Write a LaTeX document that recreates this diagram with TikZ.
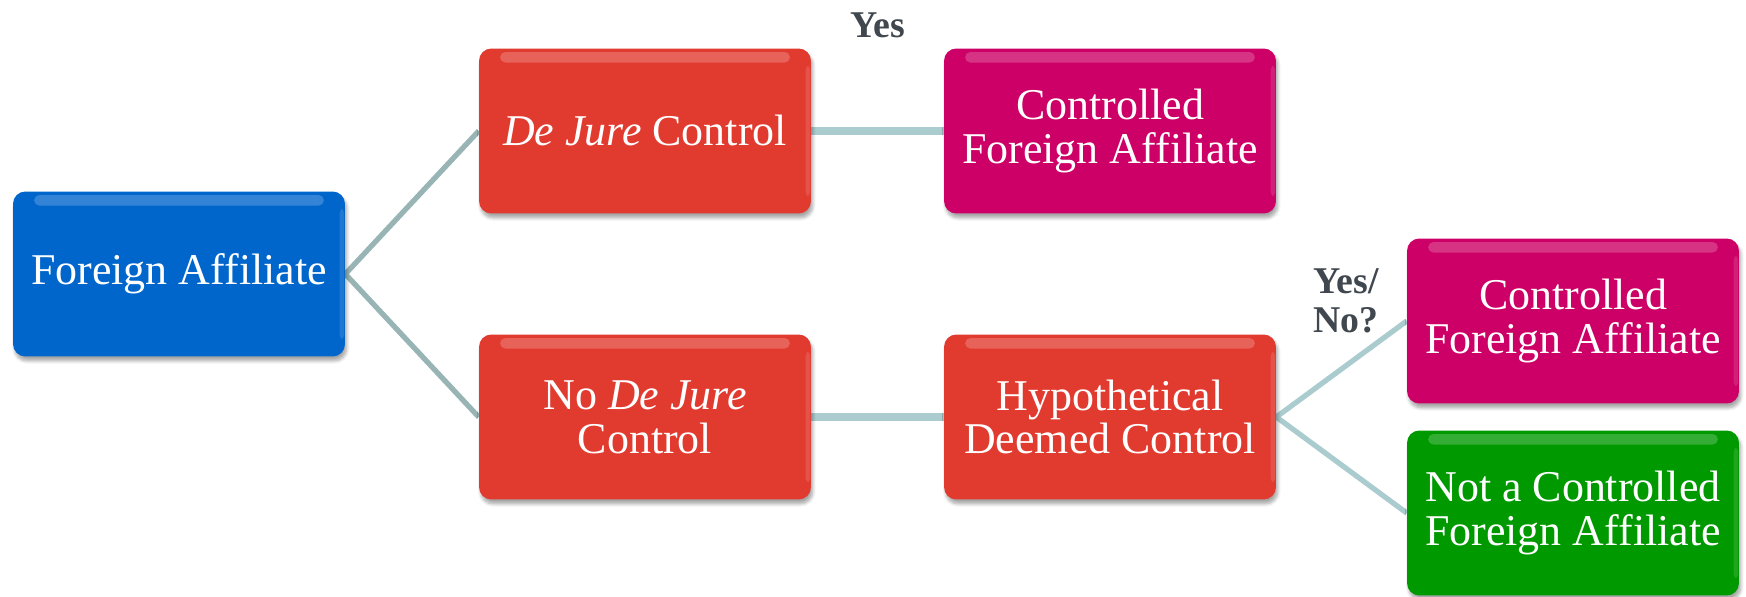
\documentclass[tikz,border=0pt]{standalone}
\usepackage{fontspec}
\setmainfont{Liberation Serif}
\usetikzlibrary{shadows.blur,backgrounds}
\definecolor{fablue}{RGB}{0,102,204}
\definecolor{fared}{RGB}{225,59,48}
\definecolor{famag}{RGB}{204,0,102}
\definecolor{fagreen}{RGB}{0,153,0}
\definecolor{conncol}{RGB}{170,204,207}
\definecolor{conngrey}{RGB}{152,180,180}
\definecolor{labcol}{RGB}{64,71,79}
\tikzset{
  box/.style={rounded corners=7pt, minimum width=6.64cm, minimum height=3.3cm,
    text=white, align=center, inner sep=2pt,
    font=\fontsize{25}{25}\selectfont,
    blur shadow={shadow xshift=1pt, shadow yshift=-2.5pt, shadow opacity=35, shadow blur steps=6},
    path picture={
      \fill[white,opacity=0.2,rounded corners=3pt]
        ([xshift=12pt,yshift=-2pt]path picture bounding box.north west)
        rectangle ([xshift=-12pt,yshift=-8pt]path picture bounding box.north east);
      \fill[white,opacity=0.12,rounded corners=2pt]
        ([xshift=-3pt,yshift=-10pt]path picture bounding box.north east)
        rectangle ([xshift=-0.5pt,yshift=10pt]path picture bounding box.south east);
    }},
  conn/.style={draw=conncol, line width=4pt},
  conndiag/.style={draw=conngrey, line width=3pt},
  lab/.style={text=labcol, font=\bfseries\fontsize{21.5}{22}\selectfont, align=center}
}
\begin{document}
\begin{tikzpicture}[x=0.02cm, y=-0.02cm]
\useasboundingbox (0,0) rectangle (1746,597);
\node[box, fill=fablue] (fa) at (179,274) {Foreign Affiliate};
\node[box, fill=fared] (dj) at (645,131) {\textit{De Jure} Control};
\node[box, fill=famag] (cfa1) at (1110,131) {Controlled\\Foreign Affiliate};
\node[box, fill=fared] (ndj) at (645,417) {No \textit{De Jure}\\Control};
\node[box, fill=fared] (hdc) at (1110,417) {Hypothetical\\Deemed Control};
\node[box, fill=famag] (cfa2) at (1573,321) {Controlled\\Foreign Affiliate};
\node[box, fill=fagreen] (ncfa) at (1573,513) {Not a Controlled\\Foreign Affiliate};
\node[lab] (yes) at (878,25) {Yes};
\node[lab] (yesno) at (1346,301) {Yes/\\No?};
\begin{pgfonlayer}{background}
\draw[conndiag] (fa.east) -- (dj.west);
\draw[conndiag] (fa.east) -- (ndj.west);
\draw[conn] (dj.east) -- (cfa1.west);
\draw[conn] (ndj.east) -- (hdc.west);
\draw[conn, line width=3pt] (hdc.east) -- (cfa2.west);
\draw[conn, line width=3pt] (hdc.east) -- (ncfa.west);
\end{pgfonlayer}
\end{tikzpicture}
\end{document}
